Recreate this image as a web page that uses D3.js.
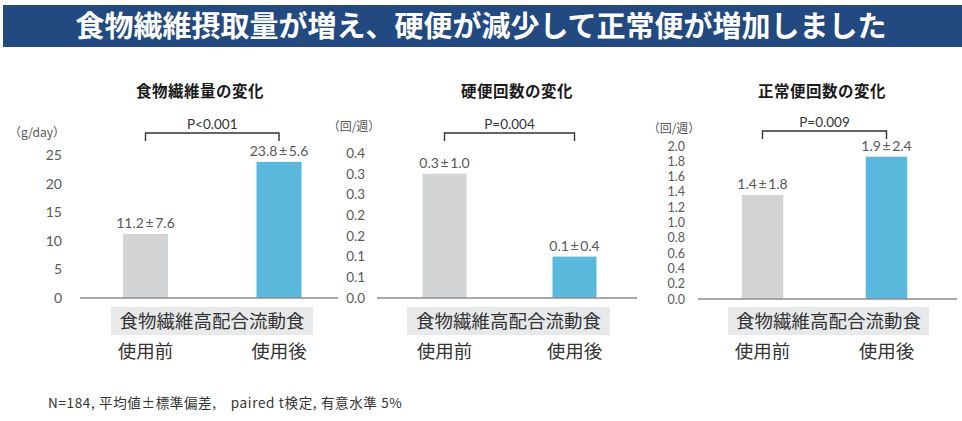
<!DOCTYPE html>
<html><head><meta charset="utf-8">
<script src="https://cdn.jsdelivr.net/npm/d3@7"></script>
<style>
body{margin:0;background:#fff;}
svg{display:block;font-family:"Noto Sans CJK JP","Noto Sans",sans-serif;}
</style></head>
<body><svg id="c" width="962" height="421"></svg>
<script>
// ---- data ----
const mainTitle = "食物繊維摂取量が増え、硬便が減少して正常便が増加しました";
const groups = ["使用前", "使用後"];
const productName = "食物繊維高配合流動食";
const chartTitles = ["食物繊維量の変化", "硬便回数の変化", "正常便回数の変化"];
const unitLabels = ["（g/day）", "（回/週）", "（回/週）"];
const fiberValues = [11.2, 23.8];
const hardStoolValues = [0.3, 0.1];
const normalStoolValues = [1.36, 1.86];
const valueLabels = [["11.2 ± 7.6", "23.8 ± 5.6"], ["0.3 ± 1.0", "0.1 ± 0.4"], ["1.4 ± 1.8", "1.9 ± 2.4"]];
const pValues = ["P<0.001", "P=0.004", "P=0.009"];
const fiberTicks = [0, 5, 10, 15, 20, 25];
const fiberTickLabels = ["0", "5", "10", "15", "20", "25"];
const hardTicks = [0, 0.05, 0.1, 0.15, 0.2, 0.25, 0.3, 0.35];
const hardTickLabels = ["0.0", "0.1", "0.1", "0.2", "0.2", "0.3", "0.3", "0.4"];
const normalTicks = [0, 0.2, 0.4, 0.6, 0.8, 1.0, 1.2, 1.4, 1.6, 1.8, 2.0];
const normalTickLabels = ["0.0", "0.2", "0.4", "0.6", "0.8", "1.0", "1.2", "1.4", "1.6", "1.8", "2.0"];
const footnote = "N=184, 平均値±標準偏差,　paired t検定, 有意水準 5%";

// ---- layout ----
const panels = [
  {values: fiberValues, ticks: fiberTicks, tickLabels: fiberTickLabels, max: 25, tickFont: 14,
   y0: 298, y1: 155, tickX: 62, axis: [80, 338], bandRange: [78.75, 345.75], pad: 1 - 45 / 133.5,
   titleX: 200, unitX: 37, unitY: 137, bracketY: 133, boxX: [111, 313]},
  {values: hardStoolValues, ticks: hardTicks, tickLabels: hardTickLabels, max: 0.35, tickFont: 13.5,
   y0: 298, y1: 153, tickX: 365, axis: [377, 637], bandRange: [379.5, 639.5], pad: 1 - 44 / 130,
   titleX: 517, unitX: 354, unitY: 131, bracketY: 133, boxX: [407, 610]},
  {values: normalStoolValues, ticks: normalTicks, tickLabels: normalTickLabels, max: 2.0, tickFont: 12.5,
   y0: 299, y1: 146, tickX: 685, axis: [698, 957], bandRange: [700.5, 948.5], pad: 1 - 41.5 / 124,
   titleX: 822, unitX: 674, unitY: 133, bracketY: 131, boxX: [728, 929]}
];
const colors = ["#d3d4d6", "#5bb8dd"];
const numFont = "Lato, 'Noto Sans', sans-serif";

const svg = d3.select("#c");

// banner
svg.append("rect").attr("x", 3).attr("y", 5).attr("width", 959).attr("height", 42).attr("fill", "#234a80");
svg.append("text").attr("x", 481).attr("y", 37).attr("text-anchor", "middle")
  .attr("fill", "#fff").attr("font-size", 29).attr("font-weight", "bold").text(mainTitle);

panels.forEach((p, i) => {
  const g = svg.append("g");
  const y = d3.scaleLinear().domain([0, p.max]).range([p.y0, p.y1]);
  const x = d3.scaleBand().domain(groups).range(p.bandRange).paddingInner(p.pad).paddingOuter(p.pad / 2);

  // title
  g.append("text").attr("x", p.titleX).attr("y", 97).attr("text-anchor", "middle")
    .attr("font-size", 15.5).attr("letter-spacing", 0.5).attr("font-weight", "bold").attr("fill", "#1a1a1a").text(chartTitles[i]);
  // unit
  g.append("text").attr("x", p.unitX).attr("y", p.unitY).attr("text-anchor", "middle")
    .attr("font-size", 12).attr("fill", "#555").text(unitLabels[i]);

  // y-axis labels
  const ax = d3.axisLeft(y).tickValues(p.ticks).tickSize(0).tickPadding(0)
    .tickFormat((d, k) => p.tickLabels[k]);
  const ag = g.append("g").attr("transform", `translate(${p.tickX},0)`).call(ax);
  ag.select(".domain").remove();
  ag.selectAll("text").attr("font-size", p.tickFont).attr("fill", "#595959")
    .attr("font-family", numFont);

  // bars
  g.selectAll("rect.bar").data(p.values).join("rect").attr("class", "bar")
    .attr("x", (d, k) => x(groups[k])).attr("width", x.bandwidth())
    .attr("y", d => y(d)).attr("height", d => y(0) - y(d))
    .attr("fill", (d, k) => colors[k]);

  // baseline
  g.append("line").attr("x1", p.axis[0]).attr("x2", p.axis[1]).attr("y1", y(0)).attr("y2", y(0))
    .attr("stroke", "#8c8c8c").attr("stroke-width", 1.3);

  // value labels
  g.selectAll("text.val").data(p.values).join("text").attr("class", "val")
    .attr("x", (d, k) => x(groups[k]) + x.bandwidth() / 2).attr("y", d => y(d) - 6)
    .attr("text-anchor", "middle").attr("font-size", 14).attr("fill", "#595959")
    .attr("font-family", numFont).attr("word-spacing", -2)
    .text((d, k) => valueLabels[i][k]);

  // bracket
  const bx0 = x(groups[0]) + x.bandwidth() / 2, bx1 = x(groups[1]) + x.bandwidth() / 2;
  g.append("path").attr("d", `M${bx0},${p.bracketY + 8}V${p.bracketY}H${bx1}V${p.bracketY + 8}`)
    .attr("fill", "none").attr("stroke", "#333").attr("stroke-width", 1.4);
  g.append("text").attr("x", (bx0 + bx1) / 2).attr("y", p.bracketY - 4)
    .attr("text-anchor", "middle").attr("font-size", 13.5).attr("font-family", numFont)
    .attr("fill", "#333").text(pValues[i]);

  // category box
  g.append("rect").attr("x", p.boxX[0]).attr("y", 307).attr("width", p.boxX[1] - p.boxX[0]).attr("height", 28)
    .attr("fill", "#e8e9eb");
  g.append("text").attr("x", (p.boxX[0] + p.boxX[1]) / 2).attr("y", 328).attr("text-anchor", "middle")
    .attr("font-size", 18.5).attr("fill", "#333").text(productName);
  g.selectAll("text.grp").data(groups).join("text").attr("class", "grp")
    .attr("x", d => x(d) + x.bandwidth() / 2).attr("y", 358).attr("text-anchor", "middle")
    .attr("font-size", 18.5).attr("fill", "#333").text(d => d);
});

svg.append("text").attr("x", 48).attr("y", 408).attr("font-size", 13.5).attr("letter-spacing", 0.65)
  .attr("fill", "#333").text(footnote);
</script></body></html>
